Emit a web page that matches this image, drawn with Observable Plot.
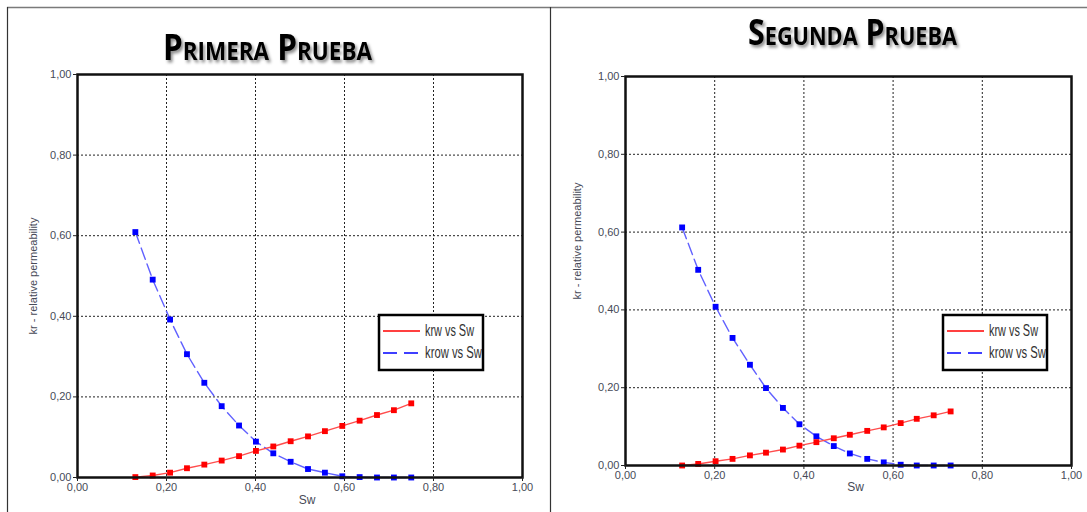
<!DOCTYPE html>
<html>
<head>
<meta charset="utf-8">
<script src="https://cdn.jsdelivr.net/npm/d3@7"></script>
<script src="https://cdn.jsdelivr.net/npm/@observablehq/plot@0.6"></script>
<style>
  html, body { margin: 0; padding: 0; background: #fff; }
  #wrap { position: relative; width: 1087px; height: 512px; background: #fff; overflow: hidden; }
  .panel { position: absolute; top: 0; }
  #overlay { position: absolute; left: 0; top: 0; pointer-events: none; }
</style>
</head>
<body>
<div id="wrap">
  <div class="panel" id="left" style="left:0px"></div>
  <div class="panel" id="right" style="left:550px"></div>
</div>
<script>
// ---------- data ----------
const titles = ["Primera Prueba", "Segunda Prueba"];
const xLabel = "Sw";
const yLabel = "kr - relative permeability";
const seriesNames = ["krw vs Sw", "krow vs Sw"];
const tickValues = [0, 0.2, 0.4, 0.6, 0.8, 1.0];
const gridValues = [0.2, 0.4, 0.6, 0.8];

// Primera prueba
const sw1   = [0.13, 0.169, 0.208, 0.246, 0.285, 0.324, 0.363, 0.401, 0.44, 0.479, 0.518, 0.556, 0.595, 0.634, 0.673, 0.711, 0.75];
const krw1  = [0.001, 0.005, 0.012, 0.023, 0.032, 0.042, 0.053, 0.066, 0.077, 0.090, 0.102, 0.115, 0.128, 0.141, 0.155, 0.167, 0.184];
const krow1 = [0.609, 0.491, 0.392, 0.306, 0.235, 0.177, 0.129, 0.089, 0.060, 0.039, 0.021, 0.012, 0.003, 0.001, 0.0, 0.0, 0.0];

// Segunda prueba
const sw2   = [0.127, 0.163, 0.202, 0.240, 0.279, 0.315, 0.353, 0.390, 0.428, 0.467, 0.503, 0.542, 0.579, 0.617, 0.653, 0.691, 0.729];
const krw2  = [0.0, 0.004, 0.011, 0.017, 0.026, 0.033, 0.041, 0.051, 0.060, 0.070, 0.079, 0.089, 0.098, 0.109, 0.120, 0.129, 0.139];
const krow2 = [0.612, 0.503, 0.408, 0.328, 0.259, 0.199, 0.148, 0.106, 0.075, 0.050, 0.031, 0.017, 0.008, 0.002, 0.0, 0.0, 0.0];

// ---------- styles ----------
const RED_LINE = "#ff4d4d", RED_DOT = "#ff0000";
const BLUE_LINE = "#6161ff", BLUE_DOT = "#0000ff";
const DASH = "12,5";
const fmt = d => d.toFixed(2).replace(".", ",");

function makePanel(sw, krw, krow, cfg) {
  const wData = sw.map((s, i) => ({sw: s, kr: krw[i]}));
  const oData = sw.map((s, i) => ({sw: s, kr: krow[i]}));
  return Plot.plot({
    width: cfg.width, height: 512,
    marginLeft: cfg.ml, marginRight: cfg.mr, marginTop: cfg.mt, marginBottom: cfg.mb,
    x: {domain: [0, 1]},
    y: {domain: [0, 1]},
    style: {fontFamily: "'Liberation Sans', Arial, sans-serif", fontSize: "11px", color: "#474a57", background: "transparent", overflow: "visible"},
    marks: [
      Plot.gridX(gridValues, {stroke: "#222", strokeOpacity: 1, strokeDasharray: "2,2", strokeWidth: 1}),
      Plot.gridY(gridValues, {stroke: "#222", strokeOpacity: 1, strokeDasharray: "2,2", strokeWidth: 1}),
      Plot.line(oData, {x: "sw", y: "kr", stroke: BLUE_LINE, strokeWidth: 1.4, strokeDasharray: DASH}),
      Plot.line(wData, {x: "sw", y: "kr", stroke: RED_LINE, strokeWidth: 1.4}),
      Plot.dot(oData, {x: "sw", y: "kr", symbol: "square", r: 3.3, fill: BLUE_DOT, stroke: "none"}),
      Plot.dot(wData, {x: "sw", y: "kr", symbol: "square", r: 3.3, fill: RED_DOT, stroke: "none"}),
      Plot.frame({stroke: "#111", strokeWidth: 2.5}),
      Plot.axisX(tickValues, {tickFormat: fmt, tickSize: 4, tickPadding: 2, label: null, stroke: "#222", fill: "#474a57", fontSize: 11}),
      Plot.axisY(tickValues, {tickFormat: fmt, tickSize: 4, tickPadding: 2, label: null, stroke: "#222", fill: "#474a57", fontSize: 11}),
      Plot.text([xLabel], {frameAnchor: "bottom", lineAnchor: "middle", textAnchor: "middle", dx: 7, dy: cfg.xLabelDy, fontSize: 12, fill: "#474a57"}),
      Plot.text([yLabel], {frameAnchor: "left", lineAnchor: "middle", textAnchor: "middle", rotate: -90, dx: -cfg.yLabelDx, dy: cfg.yLabelDy, fontSize: 11, fill: "#474a57"})
    ]
  });
}

document.getElementById("left").append(makePanel(sw1, krw1, krow1, {width: 550, ml: 77, mr: 28, mt: 74, mb: 35, xLabelDy: 23, yLabelDx: 44, yLabelDy: 0}));
document.getElementById("right").append(makePanel(sw2, krw2, krow2, {width: 537, ml: 75, mr: 16, mt: 76, mb: 47, xLabelDy: 22, yLabelDx: 48, yLabelDy: -30}));

// ---------- overlay: borders, titles, legends ----------
const ov = d3.select("#wrap").append("svg").attr("id", "overlay").attr("width", 1087).attr("height", 512);
const defs = ov.append("defs");
const f = defs.append("filter").attr("id", "shadow").attr("x", "-10%").attr("y", "-30%").attr("width", "130%").attr("height", "170%");
f.append("feDropShadow").attr("dx", 2).attr("dy", 2.5).attr("stdDeviation", 1.6).attr("flood-color", "#000").attr("flood-opacity", 0.45);

// panel borders
ov.append("line").attr("x1", 7).attr("x2", 1087).attr("y1", 7.5).attr("y2", 7.5).attr("stroke", "#7a7a7a").attr("stroke-width", 1.5);
ov.append("line").attr("x1", 7.5).attr("x2", 7.5).attr("y1", 7).attr("y2", 512).attr("stroke", "#333").attr("stroke-width", 1.2);
ov.append("line").attr("x1", 550.5).attr("x2", 550.5).attr("y1", 7).attr("y2", 512).attr("stroke", "#333").attr("stroke-width", 1.2);

// titles
const titlePos = [{x: 163, y: 60}, {x: 748, y: 45}];
titles.forEach((t, i) => {
  ov.append("text")
    .attr("x", titlePos[i].x).attr("y", titlePos[i].y)
    .attr("textLength", 209).attr("lengthAdjust", "spacingAndGlyphs")
    .attr("font-family", "'Open Sans', 'Noto Sans', sans-serif")
    .attr("font-weight", 700).attr("font-size", 35)
    .style("font-variant", "small-caps")
    .attr("fill", "#000").attr("filter", "url(#shadow)")
    .text(t);
});

// legends
const legendPos = [{x: 379, y: 315}, {x: 943, y: 315}];
legendPos.forEach(p => {
  const g = ov.append("g").attr("transform", `translate(${p.x},${p.y})`);
  g.append("rect").attr("x", 0).attr("y", 0).attr("width", 104).attr("height", 55).attr("fill", "#fff").attr("stroke", "#000").attr("stroke-width", 2.5);
  g.append("line").attr("x1", 4).attr("x2", 41).attr("y1", 16).attr("y2", 16).attr("stroke", RED_DOT).attr("stroke-width", 1.6);
  g.append("line").attr("x1", 4).attr("x2", 41).attr("y1", 38).attr("y2", 38).attr("stroke", BLUE_DOT).attr("stroke-width", 1.6).attr("stroke-dasharray", "14,7");
  const widths = [49, 57];
  seriesNames.forEach((s, i) => {
    g.append("text").attr("x", 46).attr("y", i === 0 ? 20.5 : 43)
      .attr("textLength", widths[i]).attr("lengthAdjust", "spacingAndGlyphs")
      .attr("font-family", "'Liberation Sans Narrow', 'Liberation Sans', Arial, sans-serif")
      .attr("font-size", 16).attr("fill", "#333")
      .text(s);
  });
});
</script>
</body>
</html>
